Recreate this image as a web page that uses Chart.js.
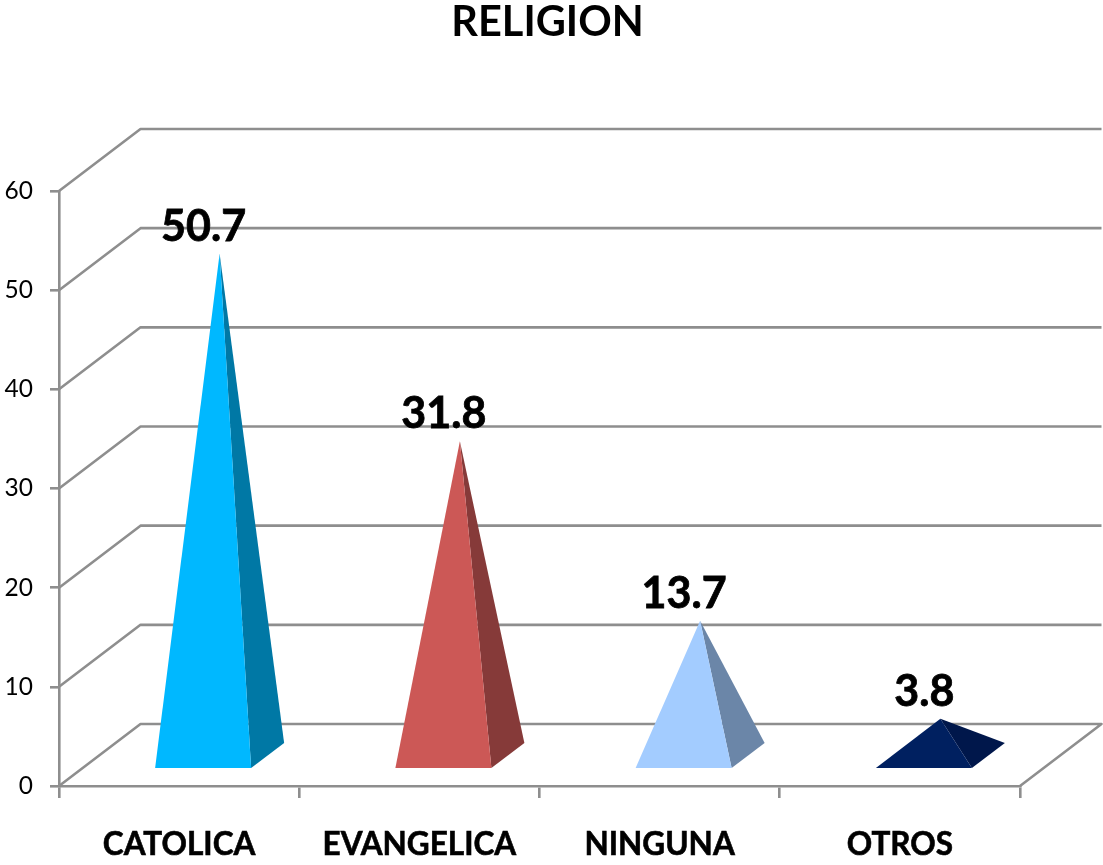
<!DOCTYPE html>
<html>
<head>
<meta charset="utf-8">
<style>html,body{margin:0;padding:0;background:#fff}canvas{display:block}</style>
<script src="https://cdn.jsdelivr.net/npm/chart.js@4"></script>
</head>
<body>
<canvas id="c" width="1103" height="865"></canvas>
<script>
const categories = ['CATOLICA', 'EVANGELICA', 'NINGUNA', 'OTROS'];
const seriesValues = [50.7, 31.8, 13.7, 3.8];
const valueLabels = ['50.7', '31.8', '13.7', '3.8'];
const frontColors = ['#00B8FF', '#CC5856', '#A3CCFF', '#002060'];
const sideColors = ['#0078A5', '#863A39', '#6B86A8', '#00174B'];

const FONT = 'Lato, Carlito, sans-serif';
const GRID = '#8E8E8E';
const DEPTH_X = 81.5, DEPTH_Y = 62;

const pyramid3d = {
  id: 'pyramid3d',
  beforeDatasetsDraw(chart) {
    const { ctx, chartArea: a, scales: { x, y } } = chart;
    ctx.save();
    ctx.strokeStyle = GRID;
    ctx.lineWidth = 2.6;
    ctx.lineJoin = 'round';
    y.ticks.forEach(t => {
      const py = y.getPixelForValue(t.value);
      ctx.beginPath();
      ctx.moveTo(a.left, py);
      ctx.lineTo(a.left + DEPTH_X, py - DEPTH_Y);
      ctx.lineTo(a.right + DEPTH_X, py - DEPTH_Y);
      if (t.value === 0) ctx.lineTo(a.right, py);
      ctx.stroke();
    });
    ctx.restore();
  },
  afterDatasetsDraw(chart) {
    const { ctx, scales: { x, y } } = chart;
    const zero = y.getPixelForValue(0);
    ctx.save();
    seriesValues.forEach((v, i) => {
      const c = x.getPixelForValue(i);
      const fl = [c - 24, zero - 18];
      const fr = [c + 72, zero - 18];
      const br = [c + 105, zero - 43];
      const apex = [c + 40.5, y.getPixelForValue(v) - 29.5];
      const tri = (p, q, r, col) => {
        ctx.fillStyle = col;
        ctx.beginPath();
        ctx.moveTo(p[0], p[1]); ctx.lineTo(q[0], q[1]); ctx.lineTo(r[0], r[1]);
        ctx.closePath();
        ctx.fill();
      };
      tri(fr, br, apex, sideColors[i]);
      tri(fl, fr, apex, frontColors[i]);
      ctx.fillStyle = '#000';
      ctx.strokeStyle = '#000';
      ctx.lineWidth = 0.8;
      ctx.font = 'bold 43px ' + FONT;
      ctx.textAlign = 'center';
      ctx.textBaseline = 'middle';
      ctx.fillText(valueLabels[i], c + 24.5, apex[1] - 27);
      ctx.strokeText(valueLabels[i], c + 24.5, apex[1] - 27);
    });
    ctx.restore();
  }
};

new Chart(document.getElementById('c'), {
  type: 'bar',
  data: {
    labels: categories,
    datasets: [{ data: seriesValues, backgroundColor: 'rgba(0,0,0,0)', borderWidth: 0 }]
  },
  plugins: [pyramid3d],
  options: {
    responsive: false,
    animation: false,
    layout: { padding: { left: 0, right: 8, top: 0, bottom: 0 } },
    plugins: {
      legend: { display: false },
      tooltip: { enabled: false },
      title: {
        display: true,
        text: 'RELIGION',
        color: '#000',
        font: { family: FONT, size: 41.5, weight: 'bold', lineHeight: 1 },
        padding: { top: 2, bottom: 147.5 }
      }
    },
    scales: {
      x: {
        type: 'category',
        offset: true,
        afterFit(s) { s.height = 79; },
        grid: { display: true, drawOnChartArea: false, drawTicks: true, tickLength: 12, color: GRID, lineWidth: 2.6, offset: true },
        border: { display: true, color: GRID, width: 2.6 },
        ticks: { color: '#000', font: { family: FONT, size: 31.5, weight: 'bold' }, padding: 28, maxRotation: 0, autoSkip: false, textStrokeColor: '#000', textStrokeWidth: 0.6 }
      },
      y: {
        type: 'linear',
        min: 0,
        max: 60,
        position: 'left',
        afterFit(s) { s.width = 59; },
        grid: { display: true, drawOnChartArea: false, drawTicks: true, tickLength: 9, color: GRID, lineWidth: 2.6 },
        border: { display: true, color: GRID, width: 2.6 },
        ticks: { stepSize: 10, color: '#000', font: { family: FONT, size: 24.5 }, padding: 17 }
      },
      spacer: {
        type: 'linear',
        position: 'right',
        afterFit(s) { s.width = 75; },
        grid: { display: false },
        border: { display: false },
        ticks: { display: false }
      }
    }
  }
});
</script>
</body>
</html>
